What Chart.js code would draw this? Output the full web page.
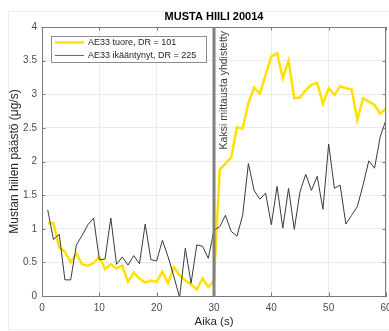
<!DOCTYPE html>
<html><head><meta charset="utf-8">
<script src="https://cdn.jsdelivr.net/npm/chart.js@4"></script>
<style>html,body{margin:0;padding:0;background:#fff}#wrap{width:389px;height:331px;position:relative}</style>
</head><body><div id="wrap"><canvas id="c" width="389" height="331"></canvas></div>
<script>
const titleText = 'MUSTA HIILI 20014';
const xLabel = 'Aika (s)';
const yLabel = 'Mustan hiilen päästö (μg/s)';
const annotationText = 'Kaksi mittausta yhdistetty';
const annotationX = 30;
const seriesNames = ['AE33 tuore, DR = 101', 'AE33 ikääntynyt, DR = 225'];
const time = [1,2,3,4,5,6,7,8,9,10,11,12,13,14,15,16,17,18,19,20,21,22,23,24,25,26,27,28,29,30,
              31,32,33,34,35,36,37,38,39,40,41,42,43,44,45,46,47,48,49,50,51,52,53,54,55,56,57,58,59,60];
const fresh = [1.08,1.08,0.72,0.66,0.50,0.63,0.47,0.45,0.49,0.58,0.40,0.47,0.41,0.45,0.21,0.35,0.26,0.20,0.23,0.21,
               0.36,0.19,0.43,0.31,0.23,0.17,0.10,0.26,0.13,0.23,1.88,1.97,2.06,2.51,2.49,2.87,3.10,3.01,3.29,3.56,
               3.61,3.24,3.50,2.94,2.95,3.06,3.14,3.17,2.86,3.09,2.99,3.12,3.09,3.07,2.62,2.94,2.89,2.84,2.71,2.79];
const aged = [1.28,0.84,0.92,0.24,0.24,0.76,0.90,1.06,1.16,0.54,0.55,1.16,0.47,0.58,0.46,0.60,0.48,1.07,0.54,0.52,
              0.83,0.58,0.29,-0.02,0.71,0.19,0.76,0.74,0.56,0.98,1.03,1.20,0.96,0.89,1.20,1.97,1.57,1.44,1.53,1.06,
              1.63,1.01,1.60,0.99,1.55,1.81,1.57,1.78,1.29,2.26,1.60,1.65,1.07,1.20,1.33,1.65,2.01,1.90,2.37,2.62];
const xTicks = [0,10,20,30,40,50,60];
const yTicks = [0,0.5,1,1.5,2,2.5,3,3.5,4];

const FONT = "'Liberation Sans', Arial, Helvetica, sans-serif";
Chart.defaults.font.family = FONT;
const axisColor = '#7a7a7a';
const colFresh = '#ffe100';
const colAged = '#3a3a3a';

const decor = {
  id: 'decor',
  beforeDraw(chart) {
    const ctx = chart.ctx;
    ctx.save();
    ctx.strokeStyle = '#ededed';
    ctx.lineWidth = 1;
    ctx.strokeRect(8.5, 11.5, 381, 318);
    ctx.restore();
  },
  afterDatasetsDraw(chart) {
    const ctx = chart.ctx, a = chart.chartArea;
    const xs = chart.scales.x, ys = chart.scales.y;
    ctx.save();
    // top/right border
    ctx.strokeStyle = axisColor; ctx.lineWidth = 1;
    ctx.beginPath();
    ctx.moveTo(Math.round(a.left) - 0.5, Math.round(a.top) + 0.5);
    ctx.lineTo(Math.round(a.right) - 0.5, Math.round(a.top) + 0.5);
    ctx.lineTo(Math.round(a.right) - 0.5, Math.round(a.bottom));
    ctx.stroke();
    // inward ticks
    const tl = 3.5;
    ctx.beginPath();
    xTicks.forEach(v => {
      const px = Math.round(xs.getPixelForValue(v)) + 0.5;
      ctx.moveTo(px, a.bottom); ctx.lineTo(px, a.bottom - tl);
      ctx.moveTo(px, a.top); ctx.lineTo(px, a.top + tl);
    });
    yTicks.forEach(v => {
      const py = Math.round(ys.getPixelForValue(v)) + 0.5;
      ctx.moveTo(a.left, py); ctx.lineTo(a.left + tl, py);
      ctx.moveTo(a.right, py); ctx.lineTo(a.right - tl, py);
    });
    ctx.stroke();
    // vertical marker
    const bx = xs.getPixelForValue(annotationX);
    ctx.strokeStyle = '#808080'; ctx.lineWidth = 3;
    ctx.beginPath(); ctx.moveTo(bx, a.top); ctx.lineTo(bx, a.bottom); ctx.stroke();
    // annotation text
    ctx.save();
    ctx.translate(bx + 10, a.top + 4);
    ctx.rotate(-Math.PI / 2);
    ctx.fillStyle = '#404040';
    ctx.font = '10.5px ' + FONT;
    ctx.textAlign = 'right'; ctx.textBaseline = 'middle';
    ctx.fillText(annotationText, 0, 0);
    ctx.restore();
    // legend
    const lx = 51.5, ly = 36.5, lw = 155, lh = 26;
    ctx.fillStyle = '#fff'; ctx.fillRect(lx, ly, lw, lh);
    ctx.strokeStyle = '#8c8c8c'; ctx.lineWidth = 1; ctx.strokeRect(lx, ly, lw, lh);
    const rows = [{c: colFresh, w: 2.5, y: 42.5}, {c: '#6a6a6a', w: 1, y: 55.5}];
    ctx.font = '9px ' + FONT; ctx.textAlign = 'left'; ctx.textBaseline = 'middle';
    rows.forEach((r, i) => {
      ctx.strokeStyle = r.c; ctx.lineWidth = r.w;
      ctx.beginPath(); ctx.moveTo(55, r.y); ctx.lineTo(84, r.y); ctx.stroke();
      ctx.fillStyle = '#262626';
      ctx.fillText(seriesNames[i], 88, r.y + 0.5);
    });
    // title
    ctx.fillStyle = '#000';
    ctx.font = 'bold 11px ' + FONT;
    ctx.textAlign = 'center'; ctx.textBaseline = 'middle';
    ctx.fillText(titleText, (a.left + a.right) / 2, 16.5);
    ctx.restore();
  }
};

new Chart(document.getElementById('c'), {
  type: 'line',
  data: {
    labels: time,
    datasets: [
      { label: seriesNames[0], data: time.map((t, i) => ({x: t, y: fresh[i]})), borderColor: colFresh,
        borderWidth: 2.5, pointRadius: 0, tension: 0, fill: false, order: 1 },
      { label: seriesNames[1], data: time.map((t, i) => ({x: t, y: aged[i]})), borderColor: colAged,
        borderWidth: 1, pointRadius: 0, tension: 0, fill: false, order: 0 }
    ]
  },
  options: {
    responsive: false, animation: false, devicePixelRatio: 1,
    layout: { padding: { top: 27, right: 3, left: 0, bottom: 0 } },
    plugins: { legend: { display: false }, title: { display: false }, tooltip: { enabled: false } },
    scales: {
      x: {
        type: 'linear', min: 0, max: 60,
        afterBuildTicks: s => { s.ticks = xTicks.map(v => ({value: v})); },
        afterFit: s => { s.height = 35; s.paddingLeft = 0; s.paddingRight = 0; },
        grid: { color: '#ebebeb', drawTicks: false },
        border: { display: true, color: axisColor, width: 1 },
        ticks: { padding: 6, color: '#4d4d4d', font: { size: 10 }, maxRotation: 0, callback: v => String(v) },
        title: { display: true, text: xLabel, color: '#262626', font: { size: 11.5 }, padding: { top: 0, bottom: 2 } }
      },
      y: {
        type: 'linear', min: 0, max: 4,
        afterBuildTicks: s => { s.ticks = yTicks.map(v => ({value: v})); },
        afterFit: s => { s.width = 42; s.paddingTop = 0; s.paddingBottom = 0; },
        grid: { color: '#ebebeb', drawTicks: false },
        border: { display: true, color: axisColor, width: 1 },
        ticks: { padding: 5, color: '#4d4d4d', font: { size: 10 }, callback: v => String(v) },
        title: { display: true, text: yLabel, color: '#262626', font: { size: 12 }, padding: { top: 7, bottom: 0 } }
      }
    }
  },
  plugins: [decor]
});
</script>
</body></html>
